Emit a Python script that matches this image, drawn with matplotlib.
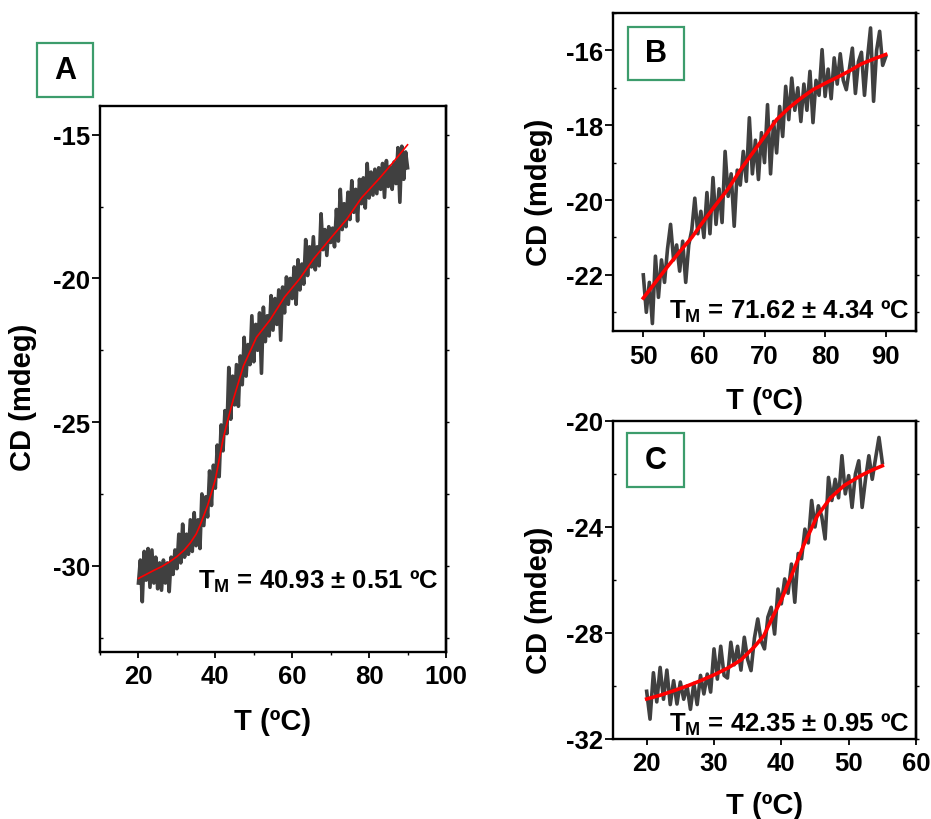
import matplotlib
matplotlib.use("Agg")
import matplotlib.pyplot as plt
from matplotlib.patches import Rectangle
from matplotlib.ticker import MultipleLocator
import numpy as np

plt.rcParams['font.family'] = ['Liberation Sans', 'DejaVu Sans']
plt.rcParams['font.weight'] = 'bold'
plt.rcParams['axes.unicode_minus'] = False
plt.rcParams['mathtext.fontset'] = 'custom'
plt.rcParams['mathtext.rm'] = 'Liberation Sans:bold'
plt.rcParams['mathtext.bf'] = 'Liberation Sans:bold'
plt.rcParams['mathtext.it'] = 'Liberation Sans:bold'

# ---- panel A: raw CD trace (every 0.5 C from 20 to 90) and fit
t_a = np.arange(20, 90.01, 0.5)
cd_a = [-30.6, -29.8, -31.25, -29.5, -30.5, -29.4, -30.75, -29.45, -30.6, -29.7,
        -30.8, -29.9, -30.85, -29.8, -30.6, -29.9, -30.9, -29.7, -30.3, -29.45,
        -30.1, -28.9, -29.9, -28.55, -29.7, -28.9, -29.6, -28.4, -29.5, -28.15,
        -29.3, -28.4, -29.4, -27.5, -28.6, -27.6, -28.3, -26.7, -27.9, -26.5,
        -27.3, -25.8, -26.9, -25.1, -26.0, -24.6, -25.4, -23.1, -24.9, -23.4,
        -24.4, -23.0, -24.45, -22.7, -23.7, -22.05, -23.4, -22.3, -23.0, -21.3,
        -22.9, -21.6, -22.5, -21.2, -23.3, -21.0, -22.2, -21.3, -22.0, -20.6,
        -21.8, -20.7, -21.6, -20.4, -22.15, -20.3, -21.2, -19.95, -20.9, -20.0,
        -20.7, -19.6, -20.9, -19.35, -20.4, -19.5, -20.2, -18.65, -19.9, -18.9,
        -19.6, -18.55, -19.7, -18.9, -19.56, -17.75, -19.0, -18.3, -19.2, -18.2,
        -18.75, -18.25, -18.9, -17.6, -18.7, -16.9, -18.3, -17.4, -18.2, -17.0,
        -17.95, -16.6, -17.7, -16.9, -18.0, -16.55, -17.4, -16.5, -17.55, -16.0,
        -17.2, -16.3, -17.1, -16.2, -17.05, -16.15, -16.9, -16.0, -17.18, -15.9,
        -16.8, -16.1, -16.9, -15.95, -16.7, -15.45, -17.35, -15.4, -16.55, -15.6,
        -16.15]
fit_t_a = [20, 22, 24, 26, 28, 30, 32, 33.5, 35, 36, 37, 38, 39, 40, 41, 42, 43, 44.7, 47.3, 50.7,
           54.2, 58, 62, 65.5, 70, 74.2, 78, 82.8, 86, 90]
fit_cd_a = [-30.44, -30.3, -30.16, -30.03, -29.87, -29.68, -29.44, -29.2, -28.9, -28.6,
            -28.25, -27.9, -27.45, -27.0, -26.3, -25.6, -25.05, -24.2, -23.05, -22.05,
            -21.45, -20.65, -20.0, -19.33, -18.6, -17.94, -17.2, -16.5, -16.0, -15.35]

# ---- panel B
t_b = np.arange(50, 90.01, 0.5)
cd_b = [-22.0, -23.0, -22.2, -23.3, -21.5, -22.6, -21.6, -22.2, -21.3, -20.65,
        -21.6, -21.2, -21.9, -21.1, -22.2, -21.2, -20.8, -19.95, -20.9, -20.3,
        -21.0, -19.8, -20.9, -19.4, -20.65, -19.7, -20.6, -18.7, -19.9, -19.3,
        -20.7, -19.2, -19.6, -18.7, -19.5, -17.8, -19.3, -18.4, -19.45, -18.2,
        -19.0, -17.45, -19.3, -17.9, -18.74, -17.5, -18.3, -16.96, -17.85, -16.74,
        -17.6, -17.0, -17.9, -16.9, -17.6, -16.56, -17.93, -16.8, -17.2, -15.98,
        -17.23, -16.5, -17.29, -16.2, -16.9, -16.09, -16.8, -17.05, -16.5, -15.94,
        -17.15, -16.3, -16.05, -17.2, -16.2, -15.4, -17.36, -16.0, -15.49, -16.4,
        -16.17]
fit_t_b = [50, 52, 54, 56, 58, 60, 62, 64, 66, 68, 70, 72, 74, 76, 78, 80, 82, 84, 86, 88, 90]
fit_cd_b = [-22.62, -22.2, -21.78, -21.38, -21.0, -20.55, -20.12, -19.7, -19.2, -18.75,
            -18.3, -17.85, -17.54, -17.28, -17.05, -16.88, -16.72, -16.55, -16.36, -16.23, -16.11]

# ---- panel C
t_c = np.arange(20, 55.01, 0.5)
cd_c = [-30.2, -31.25, -29.5, -30.6, -29.3, -30.5, -29.4, -30.7, -29.8, -30.68,
        -29.85, -30.5, -30.0, -30.88, -29.9, -30.7, -29.6, -30.3, -29.55, -30.23,
        -28.6, -29.74, -28.5, -29.6, -29.7, -28.35, -29.2, -28.5, -29.4, -28.16,
        -29.0, -29.42, -28.2, -27.47, -28.3, -28.6, -27.4, -27.03, -28.04, -26.34,
        -26.9, -25.96, -26.5, -25.4, -26.84, -25.0, -25.2, -24.08, -24.6, -23.0,
        -24.0, -23.2, -23.6, -24.45, -22.13, -23.0, -22.2, -22.9, -21.31, -22.75,
        -22.06, -23.26, -22.0, -21.5, -23.26, -22.2, -21.31, -22.2, -21.4, -20.62,
        -21.57]
fit_t_c = [20, 22, 24, 26, 28, 30, 32, 34, 36, 37.4, 38.9, 40, 41.4, 43.3, 45.3, 47.3, 49.3, 51.8, 53.5, 55]
fit_cd_c = [-30.49, -30.35, -30.18, -30.0, -29.8, -29.58, -29.33, -29.02, -28.52, -28.1,
            -27.3, -26.75, -25.9, -24.7, -23.6, -22.9, -22.44, -22.06, -21.85, -21.69]

tm_labels = [r"$\mathrm{T_M}$ = 40.93 ± 0.51 ºC",
             r"$\mathrm{T_M}$ = 71.62 ± 4.34 ºC",
             r"$\mathrm{T_M}$ = 42.35 ± 0.95 ºC"]
panel_names = ["A", "B", "C"]

GRAY = "#404040"
GREEN = "#3c9c6c"
W, H = 931, 820

fig = plt.figure(figsize=(9.31, 8.2), dpi=100)


def px_axes(l, t, r, b):
    return fig.add_axes([l / W, 1 - b / H, (r - l) / W, (b - t) / H])


def style(ax, xlim, ylim, xmaj, ymaj, ymin, xmin=None):
    ax.set_xlim(*xlim)
    ax.set_ylim(*ylim)
    ax.xaxis.set_major_locator(MultipleLocator(xmaj))
    ax.yaxis.set_major_locator(MultipleLocator(ymaj))
    ax.yaxis.set_minor_locator(MultipleLocator(ymin))
    if xmin:
        ax.xaxis.set_minor_locator(MultipleLocator(xmin))
    else:
        ax.xaxis.set_minor_locator(plt.NullLocator())
    for s in ax.spines.values():
        s.set_linewidth(1.7)
    ax.tick_params(axis='y', which='major', direction='out', length=5.5, width=1.3,
                   labelsize=18.5, pad=1.5)
    ax.tick_params(axis='y', which='minor', direction='in', length=2.5, width=1.0)
    ax.tick_params(axis='x', which='major', direction='out', length=4, width=1.3,
                   labelsize=18.5, pad=5)
    ax.tick_params(axis='x', which='minor', direction='out', length=2.5, width=1.0)
    sec = ax.secondary_yaxis('right')
    sec.yaxis.set_major_locator(MultipleLocator(ymaj))
    sec.yaxis.set_minor_locator(MultipleLocator(ymin))
    sec.tick_params(which='both', direction='out', length=2.5, width=1.0, labelright=False)
    sec.spines['right'].set_linewidth(1.7)
    for lab in ax.get_xticklabels() + ax.get_yticklabels():
        lab.set_fontweight('bold')


def letter_box(l, t, r, b, name):
    fig.add_artist(Rectangle((l / W, 1 - b / H), (r - l) / W, (b - t) / H,
                             transform=fig.transFigure, fill=False,
                             edgecolor=GREEN, linewidth=1.6))
    fig.text((l + r) / 2 / W, 1 - (t + b) / 2 / H, name, ha='center', va='center',
             fontsize=22, fontweight='bold')


# panel A
ax_a = px_axes(100, 107, 446, 653)
ax_a.plot(t_a, cd_a, color=GRAY, lw=2.6)
ax_a.plot(fit_t_a, fit_cd_a, color="red", lw=1.2)
style(ax_a, (10, 100), (-33, -14), 20, 5, 2.5, 10)
ax_a.set_xlabel("T (ºC)", fontsize=21, fontweight='bold')
ax_a.set_ylabel("CD (mdeg)", fontsize=21, fontweight='bold')
ax_a.xaxis.set_label_coords(0.5, -0.1)
ax_a.yaxis.set_label_coords(-0.182, 0.468)
ax_a.text(0.978, 0.118, tm_labels[0], transform=ax_a.transAxes, ha='right',
          va='baseline', fontsize=18.5, fontweight='bold')
letter_box(37, 44, 93, 98, panel_names[0])

# panel B
ax_b = px_axes(613, 14, 916, 332)
ax_b.plot(t_b, cd_b, color=GRAY, lw=2.6)
ax_b.plot(fit_t_b, fit_cd_b, color="red", lw=2.6)
style(ax_b, (45, 95), (-23.5, -15), 10, 2, 1)
ax_b.set_xlabel("T (ºC)", fontsize=21, fontweight='bold')
ax_b.set_ylabel("CD (mdeg)", fontsize=21, fontweight='bold')
ax_b.xaxis.set_label_coords(0.5, -0.172)
ax_b.yaxis.set_label_coords(-0.197, 0.438)
ax_b.text(0.979, 0.042, tm_labels[1], transform=ax_b.transAxes, ha='right',
          va='baseline', fontsize=18.5, fontweight='bold')
letter_box(628, 28, 684, 81, panel_names[1])

# panel C
ax_c = px_axes(613, 422, 916, 740)
ax_c.plot(t_c, cd_c, color=GRAY, lw=2.6)
ax_c.plot(fit_t_c, fit_cd_c, color="red", lw=2.6)
style(ax_c, (15, 60), (-32, -20), 10, 4, 2)
ax_c.set_xlabel("T (ºC)", fontsize=21, fontweight='bold')
ax_c.set_ylabel("CD (mdeg)", fontsize=21, fontweight='bold')
ax_c.xaxis.set_label_coords(0.5, -0.162)
ax_c.yaxis.set_label_coords(-0.197, 0.44)
ax_c.text(0.979, 0.026, tm_labels[2], transform=ax_c.transAxes, ha='right',
          va='baseline', fontsize=18.5, fontweight='bold')
letter_box(627, 434, 684, 488, panel_names[2])

fig.savefig("out.png", dpi=100)
